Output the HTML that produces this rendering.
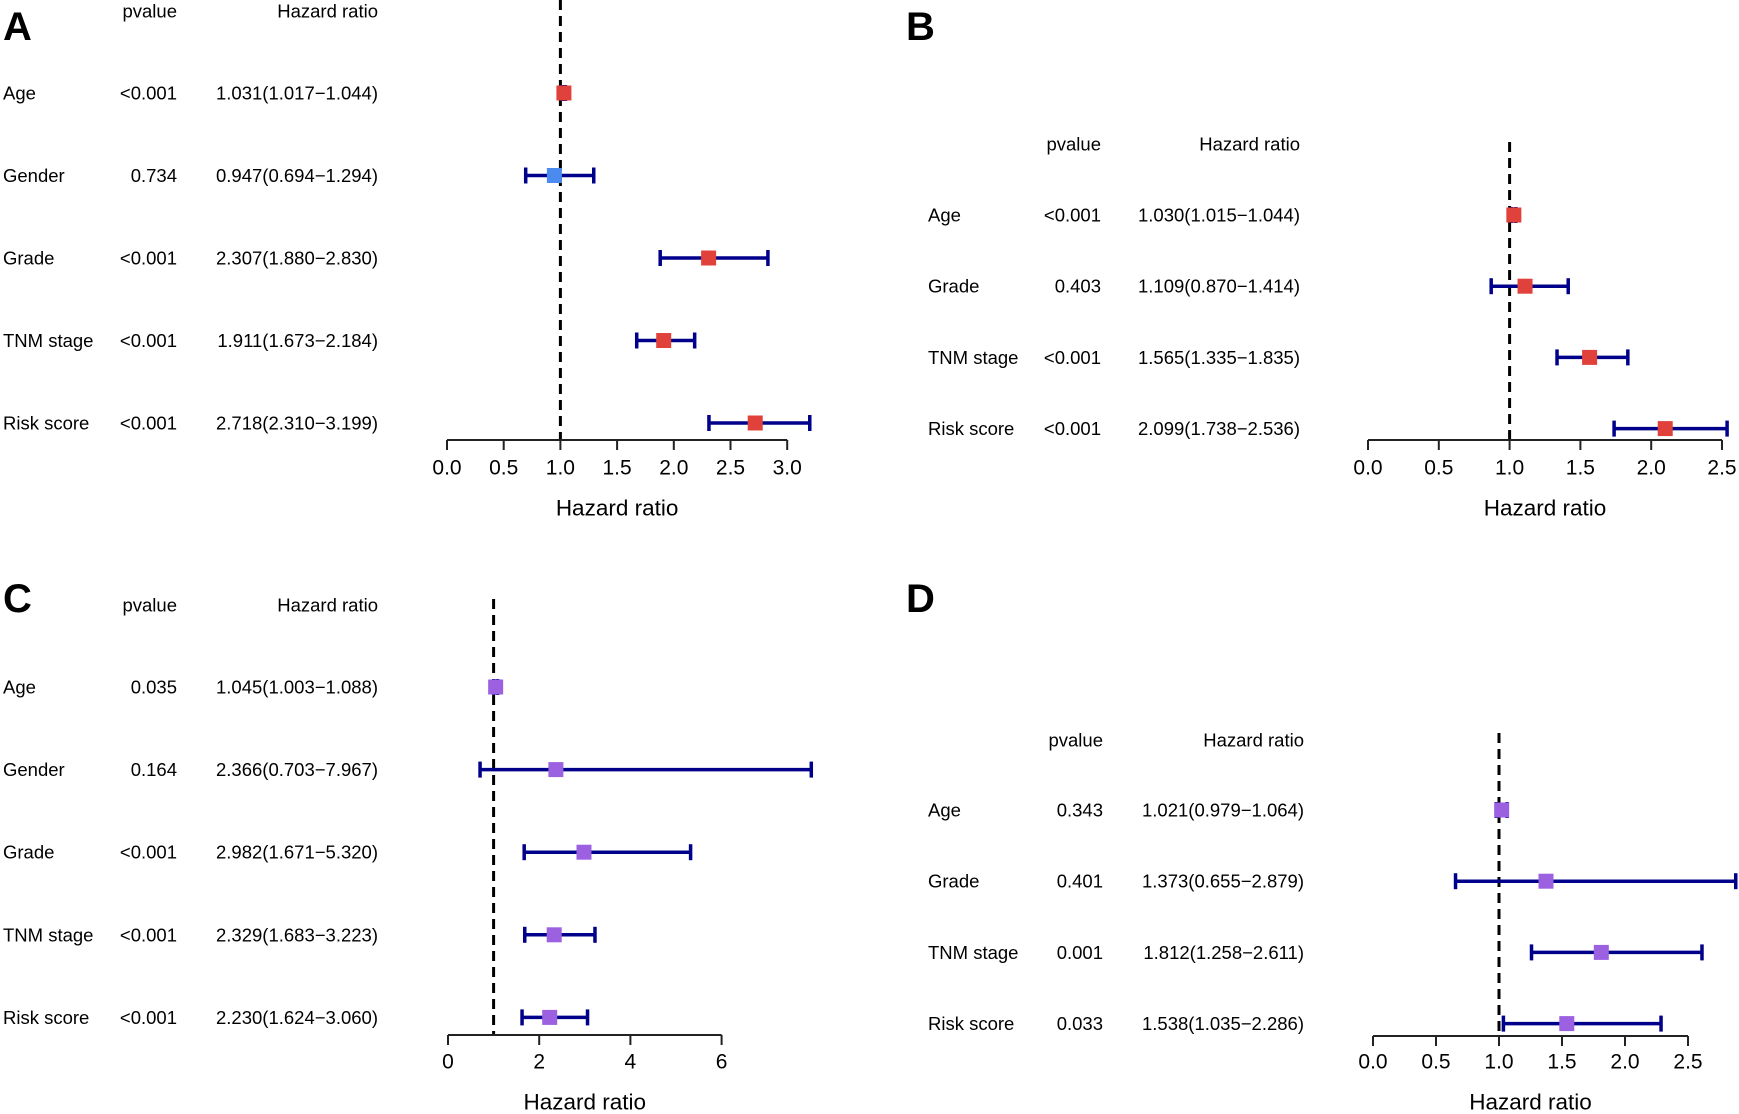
<!DOCTYPE html>
<html><head><meta charset="utf-8"><style>
html,body{margin:0;padding:0;background:#fff;}
svg{display:block;font-family:"Liberation Sans",Arial,sans-serif;}
</style></head><body>
<svg id="fig" width="1739" height="1114" viewBox="0 0 1739 1114" xmlns="http://www.w3.org/2000/svg"></svg>
<script>
// Panel A
const aLabels = ["Age","Gender","Grade","TNM stage","Risk score"];
const aP = ["<0.001","0.734","<0.001","<0.001","<0.001"];
const aHR = [1.031,0.947,2.307,1.911,2.718];
const aLo = [1.017,0.694,1.880,1.673,2.310];
const aHi = [1.044,1.294,2.830,2.184,3.199];
const aTicks = [0,0.5,1,1.5,2,2.5,3];
const aTickLabels = ["0.0","0.5","1.0","1.5","2.0","2.5","3.0"];
// Panel B
const bLabels = ["Age","Grade","TNM stage","Risk score"];
const bP = ["<0.001","0.403","<0.001","<0.001"];
const bHR = [1.030,1.109,1.565,2.099];
const bLo = [1.015,0.870,1.335,1.738];
const bHi = [1.044,1.414,1.835,2.536];
const bTicks = [0,0.5,1,1.5,2,2.5];
const bTickLabels = ["0.0","0.5","1.0","1.5","2.0","2.5"];
// Panel C
const cLabels = ["Age","Gender","Grade","TNM stage","Risk score"];
const cP = ["0.035","0.164","<0.001","<0.001","<0.001"];
const cHR = [1.045,2.366,2.982,2.329,2.230];
const cLo = [1.003,0.703,1.671,1.683,1.624];
const cHi = [1.088,7.967,5.320,3.223,3.060];
const cTicks = [0,2,4,6];
const cTickLabels = ["0","2","4","6"];
// Panel D
const dLabels = ["Age","Grade","TNM stage","Risk score"];
const dP = ["0.343","0.401","0.001","0.033"];
const dHR = [1.021,1.373,1.812,1.538];
const dLo = [0.979,0.655,1.258,1.035];
const dHi = [1.064,2.879,2.611,2.286];
const dTicks = [0,0.5,1,1.5,2,2.5];
const dTickLabels = ["0.0","0.5","1.0","1.5","2.0","2.5"];

const NS="http://www.w3.org/2000/svg";
const svg=document.getElementById('fig');
function mk(tag,attrs,parent){const e=document.createElementNS(NS,tag);for(const k in attrs)e.setAttribute(k,attrs[k]);(parent||svg).appendChild(e);return e;}
function txt(s,x,y,size,anchor,parent,weight){const t=mk('text',{x:x,y:y,'font-size':size,'text-anchor':anchor||'start','dominant-baseline':'central',fill:'#000'},parent);if(weight)t.setAttribute('font-weight',weight);t.textContent=s;return t;}
function fmt(v){return v.toFixed(3);}

function panel(cfg){
  const g=mk('g',{});
  
  
  const xs=v=>cfg.x0+cfg.scale*v;
  const ys=i=>cfg.row0+cfg.rowStep*i;
  const L=txt(cfg.letter,cfg.lx,cfg.ly,40,'start',g,'bold');
  
  
  const h1=txt('pvalue',cfg.pRight,cfg.headY,18.5,'end',g);
  
  
  const h2=txt('Hazard ratio',cfg.hrRight,cfg.headY,18.5,'end',g);
  
  
  const ref=mk('line',{x1:xs(1),x2:xs(1),y1:cfg.dashTop,y2:cfg.axisY,stroke:'#000','stroke-width':3,'stroke-dasharray':'10,6'},g);
  
  
  for(let i=0;i<cfg.labels.length;i++){
    const y=ys(i);
    const rl=txt(cfg.labels[i],cfg.labX,y,18.5,'start',g);
    
    
    const pv=txt(cfg.p[i],cfg.pRight,y,18.5,'end',g);
    
    
    const hv=txt(fmt(cfg.hr[i])+'('+fmt(cfg.lo[i])+'\u2212'+fmt(cfg.hi[i])+')',cfg.hrRight,y,18.5,'end',g);
    
    
    const eg=mk('g',{stroke:'#00008B','stroke-width':3.5},g);
    
    
    mk('line',{x1:xs(cfg.lo[i]),x2:xs(cfg.hi[i]),y1:y,y2:y},eg);
    mk('line',{x1:xs(cfg.lo[i]),x2:xs(cfg.lo[i]),y1:y-8,y2:y+8},eg);
    mk('line',{x1:xs(cfg.hi[i]),x2:xs(cfg.hi[i]),y1:y-8,y2:y+8},eg);
    const col=cfg.color==='auto'?(cfg.hr[i]<1?'#4B8BF0':'#E0413B'):cfg.color;
    const m=mk('rect',{x:xs(cfg.hr[i])-7.5,y:y-7.5,width:15,height:15,fill:col},g);
    
    
  }
  const ax=mk('g',{stroke:'#222','stroke-width':2},g);
  
  
  mk('line',{x1:xs(cfg.ticks[0]),x2:xs(cfg.ticks[cfg.ticks.length-1]),y1:cfg.axisY,y2:cfg.axisY},ax);
  cfg.ticks.forEach((t,j)=>{
    mk('line',{x1:xs(t),x2:xs(t),y1:cfg.axisY,y2:cfg.axisY+10},ax);
    const tl=txt(cfg.tickLabels[j],xs(t),cfg.tickY,21,'middle',g);
    
    
  });
  const at=txt('Hazard ratio',(xs(cfg.ticks[0])+xs(cfg.ticks[cfg.ticks.length-1]))/2,cfg.titleY,22.5,'middle',g);
  
  
}

panel({letter:'A',lx:3,ly:27,labX:3,pRight:177,hrRight:378,headY:11,
  labels:aLabels,p:aP,hr:aHR,lo:aLo,hi:aHi,ticks:aTicks,tickLabels:aTickLabels,
  x0:447,scale:113.4,row0:93,rowStep:82.5,dashTop:0,axisY:440,tickY:468,titleY:508,color:'auto'});
panel({letter:'B',lx:906,ly:27,labX:928,pRight:1101,hrRight:1300,headY:144,
  labels:bLabels,p:bP,hr:bHR,lo:bLo,hi:bHi,ticks:bTicks,tickLabels:bTickLabels,
  x0:1368,scale:141.6,row0:215,rowStep:71.2,dashTop:142,axisY:440,tickY:468,titleY:508,color:'#E0413B'});
panel({letter:'C',lx:3,ly:599,labX:3,pRight:177,hrRight:378,headY:605,
  labels:cLabels,p:cP,hr:cHR,lo:cLo,hi:cHi,ticks:cTicks,tickLabels:cTickLabels,
  x0:448,scale:45.6,row0:687,rowStep:82.6,dashTop:599,axisY:1035,tickY:1062,titleY:1102,color:'#9C61E0'});
panel({letter:'D',lx:906,ly:599,labX:928,pRight:1103,hrRight:1304,headY:740,
  labels:dLabels,p:dP,hr:dHR,lo:dLo,hi:dHi,ticks:dTicks,tickLabels:dTickLabels,
  x0:1373,scale:126,row0:810,rowStep:71.2,dashTop:733,axisY:1036,tickY:1062,titleY:1102,color:'#9C61E0'});
</script>
</body></html>
